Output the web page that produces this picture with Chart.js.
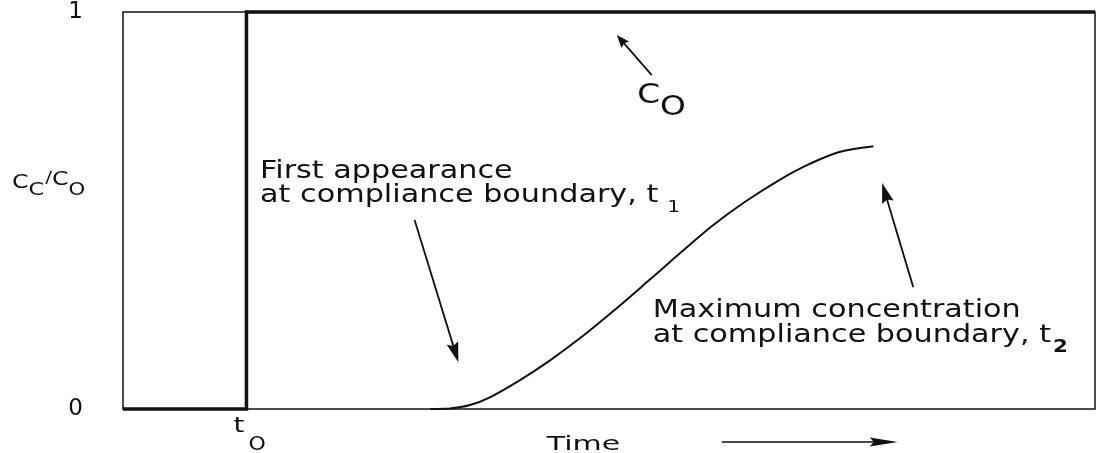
<!DOCTYPE html>
<html>
<head>
<meta charset="utf-8">
<script src="https://cdn.jsdelivr.net/npm/chart.js@4"></script>
<style>
  html, body { margin: 0; padding: 0; background: #fff; }
  #wrap { width: 1097px; height: 453px; position: relative; }
</style>
</head>
<body>
<div id="wrap"><canvas id="chart"></canvas></div>
<script>
// input step C0 (switched on at t0) and breakthrough curve at the compliance boundary
const t0 = 12.7;
const stepTime = [0, t0, t0, 100];
const stepConc = [0, 0, 1, 1];

const curveTime = [31.6, 33.6, 35.7, 37.8, 40.8, 43.9, 47.0, 50.6, 54.2, 57.8, 60.7, 64.0, 67.6, 70.7, 73.8, 77.2];
const curveConc = [0, 0.001, 0.010, 0.030, 0.072, 0.122, 0.178, 0.250, 0.326, 0.403, 0.463, 0.522, 0.578, 0.618, 0.648, 0.662];

const yTicks = [0, 1];

const INK = '#111';
const FONT = '"DejaVu Sans", sans-serif';
const SX = 1.26; // the original lettering is much wider than DejaVu

function pts(xs, ys) {
    return xs.map((x, i) => ({ x: x, y: ys[i] }));
}

// draws a run of text pieces, each with its own baseline shift and size
function runText(ctx, x, y, parts, sx) {
    let cx = x;
    parts.forEach(p => {
        ctx.save();
        ctx.font = (p.weight || 'normal') + ' ' + p.size + 'px ' + FONT;
        ctx.translate(cx + (p.gap || 0), y + (p.dy || 0));
        ctx.scale(sx, 1);
        ctx.fillText(p.t, 0, 0);
        cx += (p.gap || 0) + ctx.measureText(p.t).width * sx;
        ctx.restore();
    });
}

function arrow(ctx, x1, y1, x2, y2, len, half, width) {
    const a = Math.atan2(y2 - y1, x2 - x1);
    ctx.save();
    ctx.lineWidth = width;
    ctx.beginPath();
    ctx.moveTo(x1, y1);
    ctx.lineTo(x2 - Math.cos(a) * len * 0.8, y2 - Math.sin(a) * len * 0.8);
    ctx.stroke();
    ctx.translate(x2, y2);
    ctx.rotate(a);
    ctx.beginPath();
    ctx.moveTo(0, 0);
    ctx.lineTo(-len, -half);
    ctx.lineTo(-len * 0.85, 0);
    ctx.lineTo(-len, half);
    ctx.closePath();
    ctx.fill();
    ctx.restore();
}

const frame = {
    id: 'frame',
    beforeDatasetsDraw(chart) {
        const { ctx, chartArea: a } = chart;
        ctx.save();
        ctx.strokeStyle = INK;
        ctx.lineWidth = 1.5;
        ctx.strokeRect(a.left, a.top, a.right - a.left, a.bottom - a.top);
        ctx.restore();
    },
    afterDatasetsDraw(chart) {
        const { ctx, chartArea: a } = chart;
        const xs = chart.scales.x, ys = chart.scales.y;
        const X = v => xs.getPixelForValue(v);
        const Y = v => ys.getPixelForValue(v);
        ctx.save();
        ctx.fillStyle = INK;
        ctx.strokeStyle = INK;
        ctx.textBaseline = 'alphabetic';

        // y axis title  Cc/Co
        runText(ctx, 12, 188, [
            { t: 'C', size: 19 },
            { t: 'C', size: 18, dy: 7 },
            { t: '/', size: 16, dy: -5, gap: 1 },
            { t: 'C', size: 19, dy: -3 },
            { t: 'O', size: 17, dy: 7 }
        ], 1.25);

        // x tick t0
        runText(ctx, X(t0) - 13, a.bottom + 23, [{ t: 't', size: 22 }], SX);
        runText(ctx, X(t0) + 2, a.bottom + 41, [{ t: 'O', size: 20 }], 1.1);

        // x title and arrow
        runText(ctx, X(43.6), a.bottom + 41, [{ t: 'Time', size: 20 }], 1.5);
        arrow(ctx, X(61.6), a.bottom + 33, X(79.7), a.bottom + 33, 28, 4.5, 1.5);

        // C0 label
        runText(ctx, X(52.9), Y(0.771), [
            { t: 'C', size: 26 },
            { t: 'O', size: 26, dy: 12 }
        ], SX);
        arrow(ctx, X(54.4), Y(0.841), X(50.8), Y(0.942), 13, 5, 1.8);

        // first appearance
        runText(ctx, X(14.1), Y(0.582), [{ t: 'First appearance', size: 24 }], SX);
        runText(ctx, X(14.1), Y(0.521), [
            { t: 'at compliance boundary, t', size: 24 },
            { t: '1', size: 16, dy: 10, gap: 9 }
        ], SX);
        arrow(ctx, X(30.0), Y(0.476), X(34.5), Y(0.118), 20, 6, 1.8);

        // maximum concentration
        runText(ctx, X(54.5), Y(0.232), [{ t: 'Maximum concentration', size: 24 }], SX);
        runText(ctx, X(54.5), Y(0.169), [
            { t: 'at compliance boundary, t', size: 24 },
            { t: '2', size: 17, dy: 10, gap: 2, weight: 'bold' }
        ], SX);
        arrow(ctx, X(81.3), Y(0.307), X(78.1), Y(0.569), 20, 6, 1.8);

        ctx.restore();
    }
};

new Chart(document.getElementById('chart'), {
    type: 'line',
    data: {
        datasets: [
            {
                label: 'C0',
                data: pts(stepTime, stepConc),
                borderColor: INK,
                borderWidth: 3.5,
                pointRadius: 0,
                tension: 0,
                clip: false
            },
            {
                label: 'Cc',
                data: pts(curveTime, curveConc),
                borderColor: INK,
                borderWidth: 2,
                pointRadius: 0,
                tension: 0.35,
                clip: false
            }
        ]
    },
    options: {
        responsive: true,
        maintainAspectRatio: false,
        animation: false,
        layout: { padding: { top: 12, right: 2, left: 0, bottom: 0 } },
        plugins: {
            legend: { display: false },
            tooltip: { enabled: false }
        },
        scales: {
            x: {
                type: 'linear',
                min: 0,
                max: 100,
                grid: { display: false },
                border: { display: false },
                ticks: { display: false },
                afterFit(s) { s.height = 44; s.paddingLeft = 0; s.paddingRight = 0; }
            },
            y: {
                min: 0,
                max: 1,
                grid: { display: false },
                border: { display: false },
                afterBuildTicks(s) { s.ticks = yTicks.map(v => ({ value: v })); },
                afterFit(s) { s.width = 123; s.paddingTop = 0; s.paddingBottom = 0; },
                ticks: {
                    padding: 32,
                    color: INK,
                    font: { family: 'DejaVu Sans', size: 23 }
                }
            }
        }
    },
    plugins: [frame]
});
</script>
</body>
</html>
